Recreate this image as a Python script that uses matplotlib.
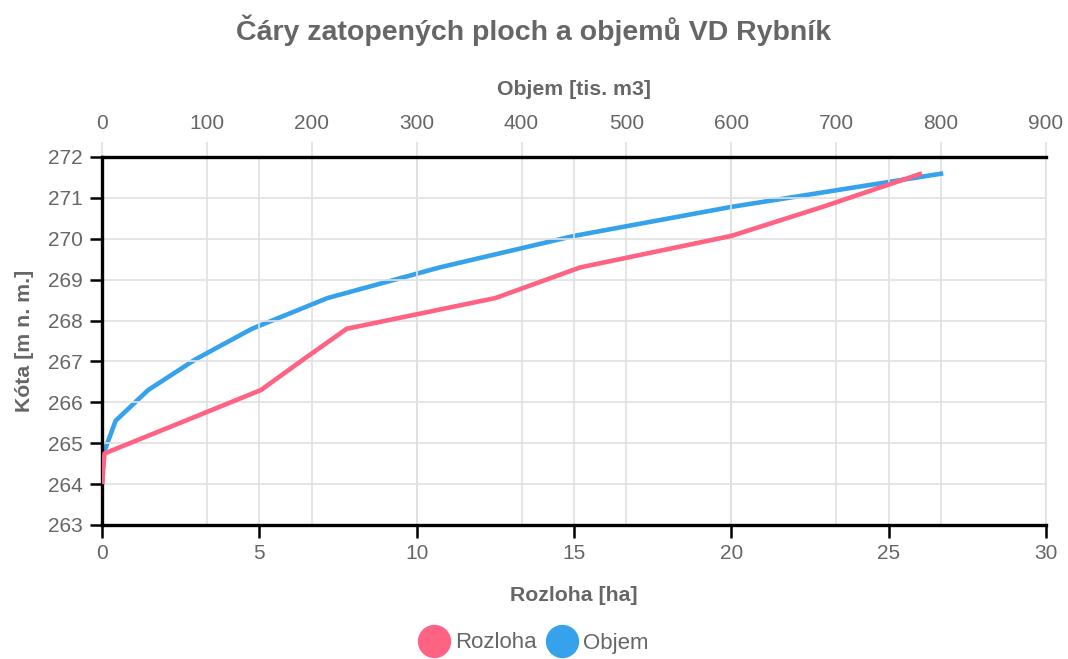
import matplotlib.pyplot as plt
from matplotlib.lines import Line2D

plt.rcParams['font.family'] = ['Liberation Sans', 'DejaVu Sans']

# kota hladiny [m n. m.]
kota = [264.0, 264.75, 265.55, 266.3, 267.05, 267.8, 268.55, 269.3, 270.07, 270.78, 271.6]
# zatopena plocha [ha]
rozloha = [0.0, 0.08, 2.65, 5.05, 6.4, 7.78, 12.5, 15.2, 20.0, 22.9, 26.06]
# objem [tis. m3]
objem = [0.0, 1.5, 13, 44, 89, 143, 215, 322, 450, 600, 802]

c_red = '#FF6384'
c_blue = '#36A2EB'
grey = '#666666'
gridc = '#e0e0e0'

fig = plt.figure(figsize=(10.68, 6.59), dpi=100)
ax = fig.add_axes([102/1068, 1-525/659, (1046-102)/1068, (525-157)/659])
ax2 = ax.twiny()

ax.set_xlim(0, 30)
ax.set_ylim(263, 272)
ax2.set_xlim(0, 900)
ax.set_xticks(range(0, 31, 5))
ax.set_yticks(range(263, 273))
ax2.set_xticks(range(0, 901, 100))

ax.grid(True, color=gridc, lw=1.2)
ax2.grid(True, axis='x', color=gridc, lw=1.2)

ax2.plot(objem, kota, color=c_blue, lw=3.3, solid_capstyle='butt', zorder=3)
ax.plot(rozloha, kota, color=c_red, lw=3.3, solid_capstyle='butt', zorder=4)
ax.set_zorder(ax2.get_zorder() + 1)
ax.patch.set_visible(False)

for s in ax2.spines.values():
    s.set_visible(False)
for side in ('left', 'bottom', 'top'):
    ax.spines[side].set_linewidth(2.4)
    ax.spines[side].set_color('black')
ax.spines['right'].set_color(gridc)
ax.spines['right'].set_linewidth(1.2)

ax.tick_params(axis='both', colors='black', labelcolor=grey, labelsize=15,
               length=9, width=1.8, pad=5)
ax2.tick_params(axis='x', colors=gridc, labelcolor=grey, labelsize=15,
                length=11, width=1.2, pad=6)

ax.set_xlabel('Rozloha [ha]', color=grey, fontsize=15.3, fontweight='bold', labelpad=16)
ax.set_ylabel('Kóta [m n. m.]', color=grey, fontsize=15.3, fontweight='bold', labelpad=10)
ax2.set_xlabel('Objem [tis. m3]', color=grey, fontsize=15.3, fontweight='bold', labelpad=14)

fig.text(0.5, 1-30/659, 'Čáry zatopených ploch a objemů VD Rybník', ha='center', va='center',
         color=grey, fontsize=20.5, fontweight='bold')

handles = [Line2D([], [], ls='none', marker='o', ms=23, color=c_red),
           Line2D([], [], ls='none', marker='o', ms=23, color=c_blue)]
fig.legend(handles, ['Rozloha', 'Objem'], loc='center', bbox_to_anchor=(0.5, 1-643/659),
           ncol=2, frameon=False, fontsize=16, labelcolor=grey, handletextpad=0.3,
           columnspacing=0.5, handlelength=1.3)

fig.savefig('out.png', dpi=100)
